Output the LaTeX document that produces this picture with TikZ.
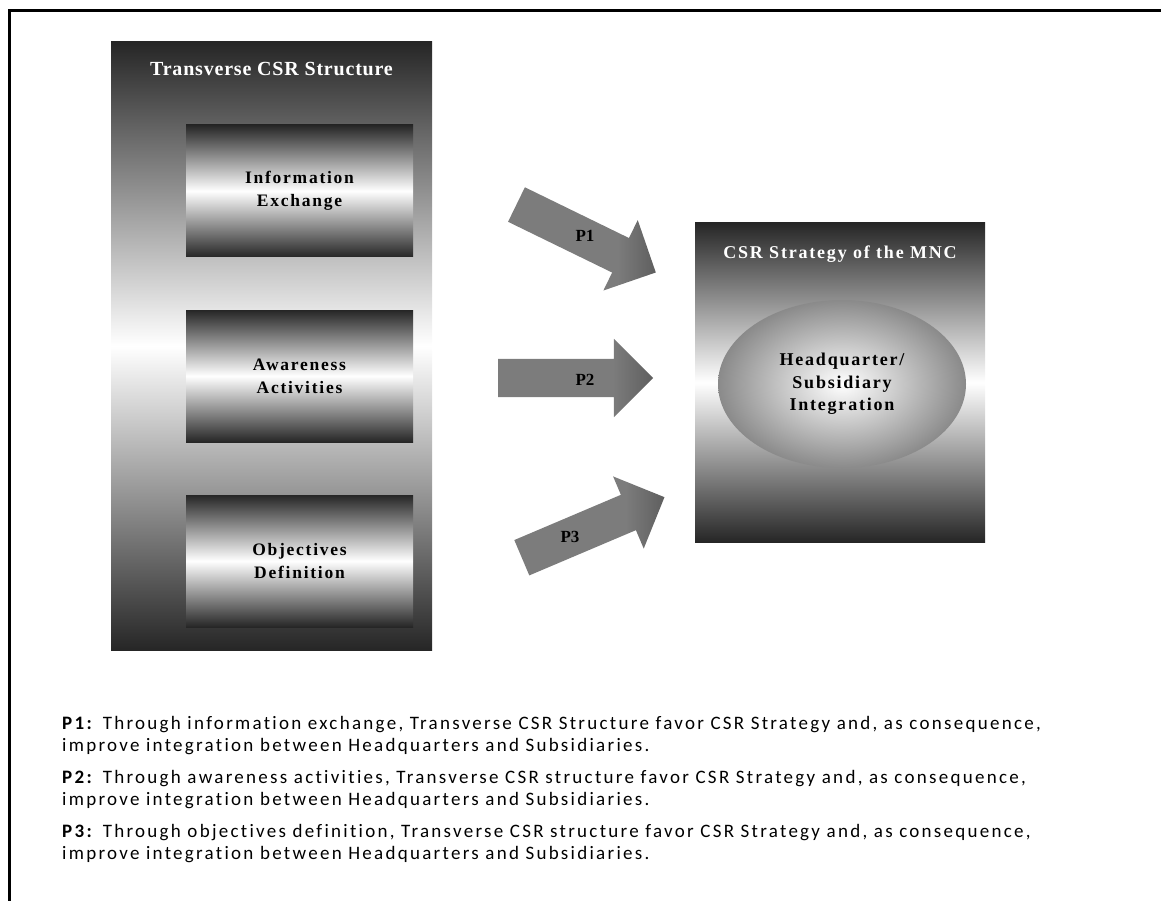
\documentclass[tikz,border=0pt]{standalone}
\usepackage{fontspec}
\setmainfont{Liberation Serif}
\newfontfamily\boxfont[LetterSpace=10]{Liberation Serif}
\newfontfamily\titlefont[LetterSpace=4]{Liberation Serif}
\newfontfamily\notefont[LetterSpace=12,Ligatures=NoCommon]{Carlito}
\usetikzlibrary{positioning,shapes.geometric,shapes.arrows}
\definecolor{shadedark}{HTML}{262626}
\definecolor{arrowgray}{HTML}{7C7C7C}
\definecolor{ringgray}{HTML}{8A8A8A}
\pgfdeclarehorizontalshading{arrowshade}{100bp}{color(0bp)=(arrowgray); color(62bp)=(arrowgray); color(100bp)=(shadedark)}
\begin{document}
\begin{tikzpicture}[x=1pt,y=-1pt,
	bandbox/.style={rectangle,inner sep=0pt,top color=shadedark,bottom color=shadedark,middle color=white},
	itembox/.style={bandbox,minimum width=227pt,minimum height=132pt,align=center,
		font=\boxfont\bfseries\fontsize{17.5}{23}\selectfont},
	boxtitle/.style={inner sep=0pt,text=white,font=\titlefont\bfseries\fontsize{20}{24}\selectfont},
	blockarrow/.style={single arrow,shading=arrowshade,inner xsep=0pt,inner ysep=19pt,minimum height=155pt,
		single arrow head extend=20pt,single arrow head indent=0pt},
	plabel/.style={inner sep=0pt,font=\bfseries\fontsize{17}{20}\selectfont},
	note/.style={inner sep=0pt,align=left,font=\notefont\fontsize{19}{22}\selectfont}]
	\useasboundingbox (0,0) rectangle (1161,901);
	\draw[line width=3pt] (9,901) -- (9,10.5) -- (1161,10.5);
	% left column
	\node[bandbox,minimum width=321pt,minimum height=608pt] (structure) at (271.5,346) {};
	\node[boxtitle,below=20pt of structure.north] (structuretitle) {Transverse CSR Structure};
	\node[itembox] (info) at (299.5,191) {Information\\Exchange};
	\node[itembox] (aware) at (299.5,376) {Awareness\\Activities};
	\node[itembox] (objective) at (299.5,561) {Objectives\\Definition};
	% right box
	\node[bandbox,minimum width=290pt,minimum height=319pt] (strategy) at (840,382.5) {};
	\node[boxtitle,font=\boxfont\bfseries\fontsize{18}{22}\selectfont,below=23pt of strategy.north] (strategytitle) {CSR Strategy of the MNC};
	\node[ellipse,inner color=white,outer color=ringgray,minimum width=248pt,minimum height=168pt,
		align=center,font=\boxfont\bfseries\fontsize{18}{22.5}\selectfont] (integration) at (842,384) {Headquarter/\\Subsidiary\\Integration};
	% arrows
	\node[blockarrow,rotate=-26] (arrowone) at (577.5,234.3) {};
	\node[blockarrow] (arrowtwo) at (566,378) {};
	\node[blockarrow,rotate=23] (arrowthree) at (584.3,531.2) {};
	\node[plabel] at (585,236) {P1};
	\node[plabel] at (585,380) {P2};
	\node[plabel] at (570,537) {P3};
	% notes
	\node[note,anchor=north west] (p1note) at (62,716) {\textbf{P1:} Through information exchange, Transverse CSR Structure favor CSR Strategy and, as consequence,\\improve integration between Headquarters and Subsidiaries.};
	\node[note,below=15pt of p1note.south west,anchor=north west] (p2note) {\textbf{P2:} Through awareness activities, Transverse CSR structure favor CSR Strategy and, as consequence,\\improve integration between Headquarters and Subsidiaries.};
	\node[note,below=15pt of p2note.south west,anchor=north west] (p3note) {\textbf{P3:} Through objectives definition, Transverse CSR structure favor CSR Strategy and, as consequence,\\improve integration between Headquarters and Subsidiaries.};
\end{tikzpicture}
\end{document}
